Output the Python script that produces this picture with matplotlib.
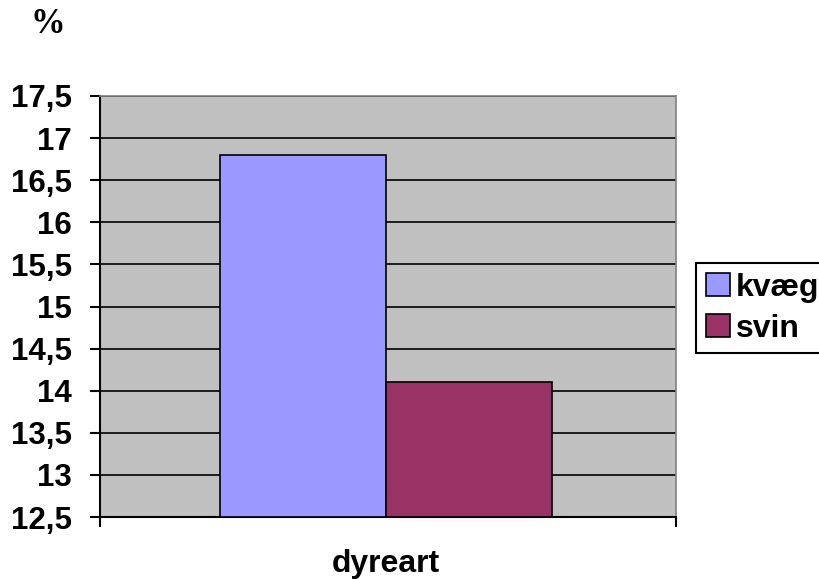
import matplotlib
matplotlib.use("Agg")
import matplotlib.pyplot as plt
from matplotlib.ticker import FixedLocator

series = ["kvæg", "svin"]
values = [16.8, 14.1]
colors = ["#9999FF", "#993366"]
yticks = [12.5, 13, 13.5, 14, 14.5, 15, 15.5, 16, 16.5, 17, 17.5]
ytick_labels = ["12,5", "13", "13,5", "14", "14,5", "15", "15,5", "16", "16,5", "17", "17,5"]
xlabel = "dyreart"
ylabel = "%"

plt.rcParams['font.family'] = ['Liberation Sans', 'DejaVu Sans']
fig = plt.figure(figsize=(8.2, 5.79), dpi=100)
ax = fig.add_axes([100/820, 62/579, 576/820, 421/579])
ax.set_facecolor("#C0C0C0")

positions = [-0.5, 0.5]
for p, v, c, n in zip(positions, values, colors, series):
    ax.bar(p, v - 12.5, bottom=12.5, width=1.0, color=c, edgecolor="black", linewidth=1.2, label=n, zorder=3)

ax.set_ylim(12.5, 17.5)
ax.set_xlim(-1.72, 1.75)
ax.yaxis.set_major_locator(FixedLocator(yticks))
ax.set_yticklabels(ytick_labels, fontsize=22.5, fontweight="bold")
ax.set_xticks([-1.72, 1.75])
ax.set_xticklabels(["", ""])
ax.tick_params(axis="y", direction="out", length=7, width=1.5, pad=13)
ax.tick_params(axis="x", direction="out", length=7, width=1.5)
ax.grid(axis="y", color="black", linewidth=1.2, zorder=1)
ax.set_axisbelow(True)
for s in ["top", "right"]:
    ax.spines[s].set_color("#808080")
    ax.spines[s].set_linewidth(1.2)
for s in ["left", "bottom"]:
    ax.spines[s].set_color("black")
    ax.spines[s].set_linewidth(1.5)

fig.text(386/820, 1 - 572/579, xlabel, ha="center", va="baseline", fontsize=23, fontweight="bold")
fig.text(48/820, 1 - 33/579, ylabel, ha="center", va="baseline", fontsize=25, fontweight="bold",
         family=["Liberation Serif", "DejaVu Serif"])

leg = fig.legend(loc="upper left", bbox_to_anchor=(696/820, 1 - 263/579), frameon=True,
                 prop={"size": 23, "weight": "bold"}, handlelength=0.75, handleheight=0.75,
                 handletextpad=0.2, borderpad=0.3, labelspacing=0.35, fancybox=False,
                 borderaxespad=0, framealpha=1)
leg.get_frame().set_edgecolor("black")
leg.get_frame().set_linewidth(1.5)

fig.savefig("out.png", dpi=100)
